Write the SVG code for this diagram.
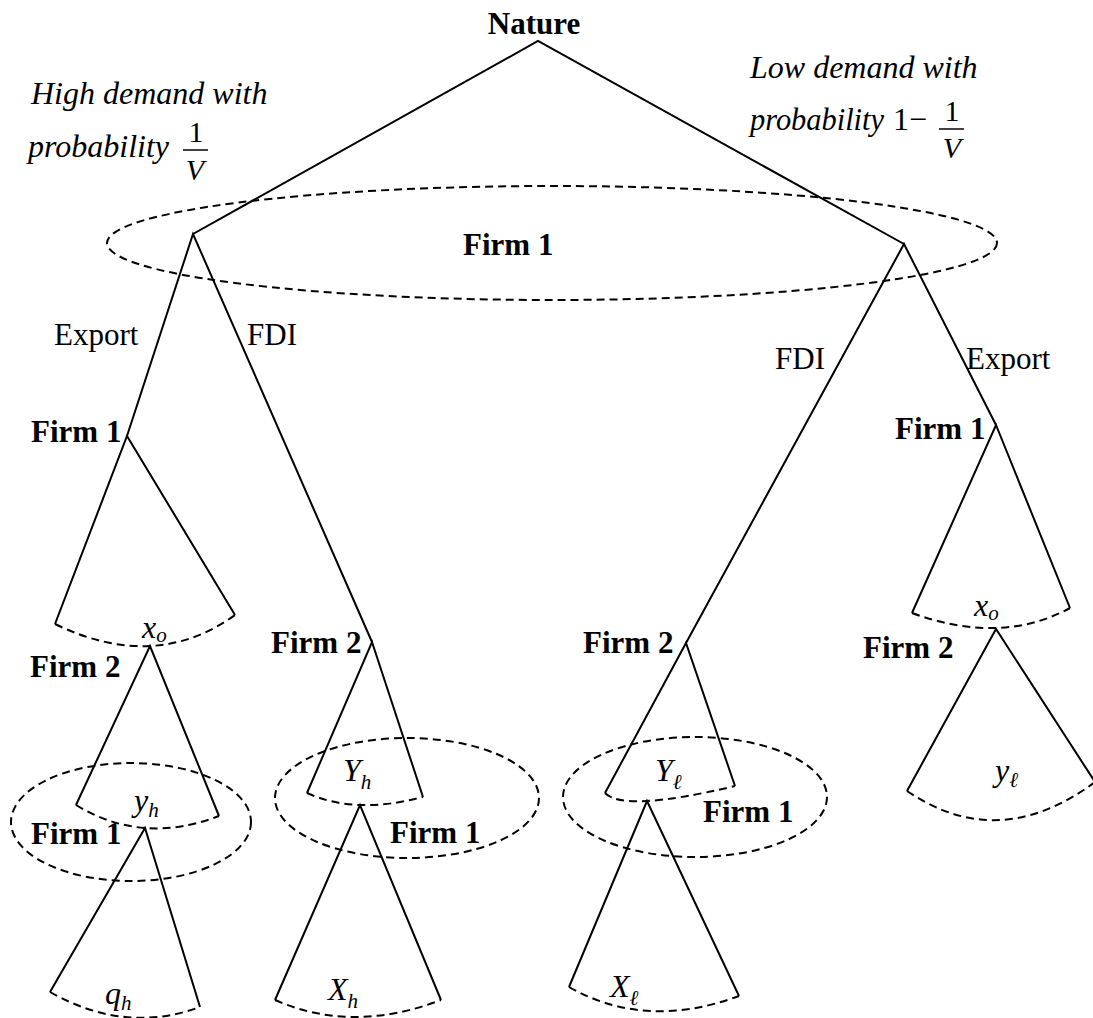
<svg xmlns="http://www.w3.org/2000/svg" width="1093" height="1018" viewBox="0 0 1093 1018">
<style>
.b{font-family:"Liberation Serif",serif;font-weight:bold;font-size:31px;fill:#000}
.r{font-family:"Liberation Serif",serif;font-size:31px;fill:#000}
.i{font-family:"Liberation Serif",serif;font-style:italic;font-size:32px;fill:#000}
.v{font-family:"Liberation Serif",serif;font-style:italic;font-size:32px;fill:#000}
.s{font-size:21px}
.f{font-family:"Liberation Serif",serif;font-size:30px;fill:#000}
.e{stroke:#000;stroke-width:2;fill:none}
.d{stroke:#000;stroke-width:2;fill:none;stroke-dasharray:8 5}
</style>
<rect width="1093" height="1018" fill="#fff"/>
<g id="connectors">
<path class="e" d="M193,234 L538,41 L904,244"/>
<path class="e" d="M127,436 L193,234 L372,642"/>
<path class="e" d="M686,643 L904,244 L996,425"/>
<path class="e" d="M55,624 L127,436 L235,615"/>
<path class="d" d="M55,624 Q155,672.5 235,615"/>
<path class="e" d="M76,805 L150,646 L219,816"/>
<path class="d" d="M76,805 Q142.5,845.5 219,816"/>
<path class="e" d="M50,992 L145,828 L200,1007"/>
<path class="d" d="M50,992 Q125,1034.5 200,1007"/>
<path class="e" d="M307,793 L372,642 L423,797"/>
<path class="d" d="M307,793 Q355,815 423,797"/>
<path class="e" d="M275,1000 L360,805 L441,1000"/>
<path class="d" d="M275,1000 Q352,1034 441,1000"/>
<path class="e" d="M605,793 L686,643 L735,786"/>
<path class="d" d="M605,793 Q624,812.5 735,786"/>
<path class="e" d="M569,987 L647,801 L739,996"/>
<path class="d" d="M569,987 Q646,1030.5 739,996"/>
<path class="e" d="M912,613 L996,425 L1070,608"/>
<path class="d" d="M912,613 Q1001,645.5 1070,608"/>
<path class="e" d="M907,791 L996,629 L1095,782"/>
<path class="d" d="M907,791 Q999,853.5 1095,782"/>
</g>
<g id="nature">
<text class="b" x="534" y="34" text-anchor="middle">Nature</text>
</g>
<g id="prob-high">
<text class="i" x="31" y="104">High demand with</text>
<text class="i" x="28" y="157">probability</text>
<text class="f" x="196" y="142" text-anchor="middle">1</text>
<line x1="183" y1="150" x2="208" y2="150" stroke="#000" stroke-width="1.5"/>
<text class="f" x="195" y="180" text-anchor="middle" font-style="italic">V</text>
</g>
<g id="prob-low">
<text class="i" x="750" y="78">Low demand with</text>
<text class="i" x="750" y="130" textLength="134" lengthAdjust="spacingAndGlyphs">probability</text>
<text class="f" x="893" y="130" style="font-size:32px">1−</text>
<text class="f" x="952" y="121" text-anchor="middle">1</text>
<line x1="939" y1="129" x2="964" y2="129" stroke="#000" stroke-width="1.5"/>
<text class="f" x="952" y="158" text-anchor="middle" font-style="italic">V</text>
</g>
<g id="firm1-top">
<ellipse class="d" cx="552" cy="243" rx="445" ry="57"/>
<text class="b" x="463" y="255">Firm 1</text>
</g>
<g id="labels-branches">
<text class="r" x="54" y="345">Export</text>
<text class="r" x="247" y="345">FDI</text>
<text class="r" x="775" y="369">FDI</text>
<text class="r" x="966" y="369">Export</text>
</g>
<g id="firm1-export-high">
<text class="b" x="31" y="442">Firm 1</text>
<text class="v" x="142" y="638">x<tspan class="s" dy="4">o</tspan></text>
</g>
<g id="firm2-export-high">
<text class="b" x="30" y="677">Firm 2</text>
<text class="v" x="134" y="811">y<tspan class="s" dy="6">h</tspan></text>
</g>
<g id="firm1-qh">
<ellipse class="d" cx="131" cy="822" rx="120" ry="59"/>
<text class="b" x="31" y="844">Firm 1</text>
<text class="v" x="105" y="1004">q<tspan class="s" dy="6">h</tspan></text>
</g>
<g id="firm2-fdi-high">
<text class="b" x="271" y="653">Firm 2</text>
<text class="v" x="343" y="781">Y<tspan class="s" dy="8">h</tspan></text>
</g>
<g id="firm1-Xh">
<ellipse class="d" cx="407" cy="798" rx="132" ry="60"/>
<text class="b" x="390" y="843">Firm 1</text>
<text class="v" x="328" y="1000">X<tspan class="s" dy="8">h</tspan></text>
</g>
<g id="firm2-fdi-low">
<text class="b" x="583" y="653">Firm 2</text>
<text class="v" x="655" y="781">Y<tspan class="s" dy="8">ℓ</tspan></text>
</g>
<g id="firm1-Xl">
<ellipse class="d" cx="695" cy="797" rx="132" ry="60"/>
<text class="b" x="703" y="822">Firm 1</text>
<text class="v" x="610" y="997">X<tspan class="s" dy="8">ℓ</tspan></text>
</g>
<g id="firm1-export-low">
<text class="b" x="895" y="439">Firm 1</text>
<text class="v" x="974" y="616">x<tspan class="s" dy="4">o</tspan></text>
</g>
<g id="firm2-export-low">
<text class="b" x="863" y="658">Firm 2</text>
<text class="v" x="995" y="781">y<tspan class="s" dy="6">ℓ</tspan></text>
</g>
</svg>
